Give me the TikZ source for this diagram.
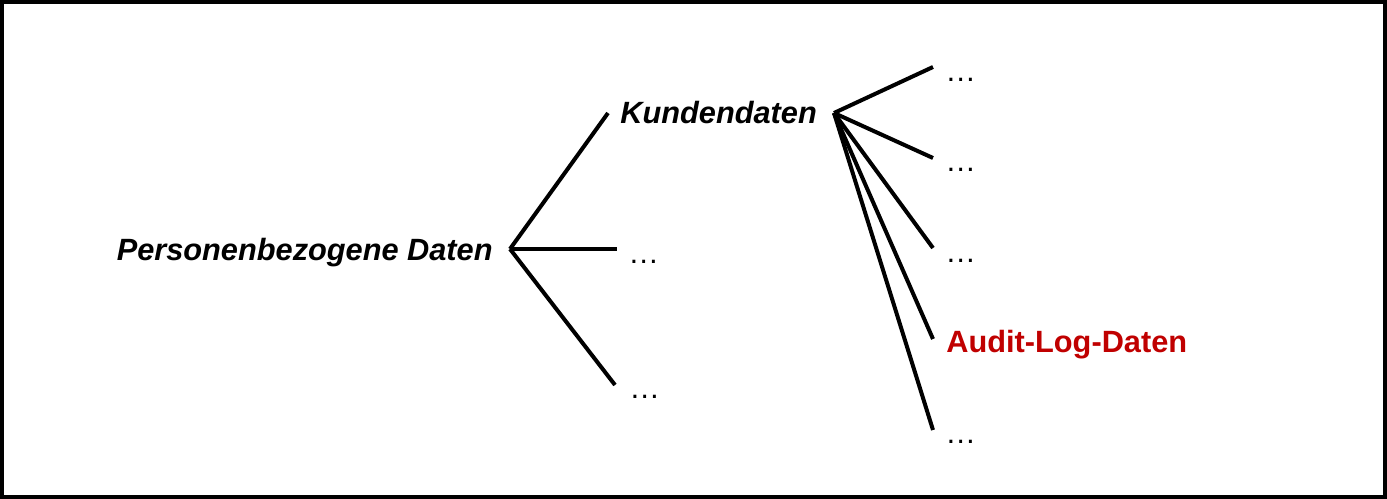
\documentclass[tikz,border=0pt]{standalone}
\usepackage{fontspec}
\setmainfont{Liberation Sans}
\usepackage{tikz}

\definecolor{auditred}{RGB}{192,0,0}

\tikzset{
  heading/.style={inner sep=0pt,font=\fontsize{17.5}{21}\selectfont\bfseries\itshape},
  dots/.style={inner sep=0pt,font=\fontsize{17.5}{21}\selectfont},
  branch/.style={line width=0.08cm}
}

\begin{document}
\begin{tikzpicture}[x=0.02cm,y=-0.02cm]
\useasboundingbox (0,0) rectangle (1387,499);
\draw [line width=0.08cm] (2,2) rectangle (1385,497);

\node (p) at (493,261) [heading,anchor=base east] {Personenbezogene Daten};
\node (k) at (620,124) [heading,anchor=base west] {Kundendaten};
\node (m) at (628,264) [dots,anchor=base west] {…};
\node (u) at (629,399) [dots,anchor=base west] {…};

\node (k1) at (945,82) [dots,anchor=base west] {…};
\node (k2) at (945,172) [dots,anchor=base west] {…};
\node (k3) at (945,263) [dots,anchor=base west] {…};
\node (a) at (946,353) [inner sep=0pt,anchor=base west,text=auditred,font=\fontsize{17.5}{21}\selectfont\bfseries] {Audit-Log-Daten};
\node (k5) at (945,444) [dots,anchor=base west] {…};

\coordinate (pf) at (510,249);
\coordinate (kf) at (834,113);
\coordinate (pk) at (608,113);
\coordinate (pm) at (617,249);
\coordinate (pu) at (615,385);
\coordinate (e1) at (933,67);
\coordinate (e2) at (933,158);
\coordinate (e3) at (933,248);
\coordinate (e4) at (933,339);
\coordinate (e5) at (933,430);

\draw [branch] (pf) -- (pk);
\draw [branch] (pf) -- (pm);
\draw [branch] (pf) -- (pu);
\foreach \e in {e1,e2,e3,e4,e5}
  \draw [branch] (kf) -- (\e);

\end{tikzpicture}
\end{document}
